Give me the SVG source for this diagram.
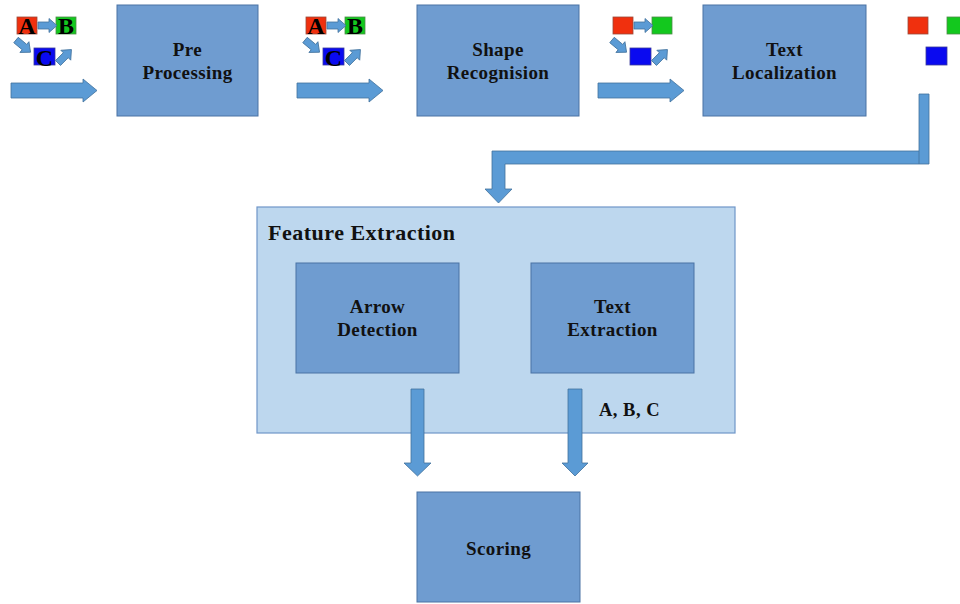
<svg xmlns="http://www.w3.org/2000/svg" xmlns:xlink="http://www.w3.org/1999/xlink" width="960" height="604" viewBox="0 0 960 604">
<style>
.box{fill:#6F9CD0;stroke:#4A73A4;stroke-width:1}
.cont{fill:#BDD7EE;stroke:#6F96C8;stroke-width:1.2}
.arr{fill:#5B9BD5;stroke:#41719C;stroke-width:0.8}
.lbl{font-family:"Liberation Serif","Times New Roman",serif;font-weight:bold;font-size:19px;fill:#111;text-anchor:middle;letter-spacing:0.4px}
.ttl{font-family:"Liberation Serif","Times New Roman",serif;font-weight:bold;font-size:22px;fill:#111;letter-spacing:0.5px}
.let{font-family:"Liberation Serif","Times New Roman",serif;font-weight:bold;font-size:24px;fill:#000;text-anchor:middle}
.r{fill:#F0300E;stroke:#9A4A3A;stroke-width:0.8}
.g{fill:#13C81E;stroke:#4F8A4A;stroke-width:0.8}
.b{fill:#0A0AF0;stroke:#3A3A9A;stroke-width:0.8}
</style>
<defs>
<path id="sa" d="M0,-3.5 H11 V-7 L19,0 L11,7 V3.5 H0 Z"/>
<g id="icon">
<rect class="r" x="0" y="0" width="20" height="17"/>
<rect class="g" x="39" y="0" width="20" height="17"/>
<rect class="b" x="17" y="31" width="21" height="17"/>
<use href="#sa" class="arr" transform="translate(21,8.5)"/>
<use href="#sa" class="arr" transform="translate(-1,23) rotate(40)"/>
<use href="#sa" class="arr" transform="translate(41,46) rotate(-45)"/>
</g>
</defs>

<g id="icons">
<g id="icon1" transform="translate(17,17)">
<use href="#icon"/>
<text class="let" x="10" y="16.5">A</text>
<text class="let" x="49" y="16.5">B</text>
<text class="let" x="27.5" y="48.5">C</text>
</g>
<g id="icon2" transform="translate(306,17)">
<use href="#icon"/>
<text class="let" x="10" y="16.5">A</text>
<text class="let" x="49" y="16.5">B</text>
<text class="let" x="27.5" y="48.5">C</text>
</g>
<g id="icon3" transform="translate(613,17)">
<use href="#icon"/>
</g>
<g id="icon4" transform="translate(908,17)">
<rect class="r" x="0" y="0" width="20" height="17"/>
<rect class="g" x="39" y="0" width="20" height="17"/>
<rect class="b" x="18" y="30" width="21" height="18"/>
</g>
<g id="icon5">
<use href="#sa" class="arr" transform="translate(355,391)"/>
<use href="#sa" class="arr" transform="translate(336,407) rotate(42)"/>
<use href="#sa" class="arr" transform="translate(376,421) rotate(-45)"/>
</g>
</g>

<g id="connectors">
<path class="arr" d="M11,83 H83 V79 L97,90.5 L83,102 V98 H11 Z"/>
<path class="arr" d="M297,83 H369 V79 L383,90.5 L369,102 V98 H297 Z"/>
<path class="arr" d="M598,83 H670 V79 L684,90.5 L670,102 V98 H598 Z"/>
<path class="arr" d="M929,94 V164 H505 V189 H512 L498.5,203 L485,189 H492 V151 H919 V94 Z"/>
<line x1="919" y1="151" x2="919" y2="164" stroke="#41719C" stroke-width="0.8"/>
</g>

<g id="feature">
<rect class="cont" x="257" y="207" width="478" height="226"/>
<text class="ttl" x="268" y="240">Feature Extraction</text>
</g>

<g id="pre">
<rect class="box" x="117" y="5" width="141" height="111"/>
<text class="lbl" x="187.5" y="56">Pre</text>
<text class="lbl" x="187.5" y="79">Processing</text>
</g>
<g id="shape">
<rect class="box" x="417" y="5" width="162" height="111"/>
<text class="lbl" x="498" y="56">Shape</text>
<text class="lbl" x="498" y="79">Recognision</text>
</g>
<g id="textloc">
<rect class="box" x="703" y="5" width="163" height="111"/>
<text class="lbl" x="784.5" y="56">Text</text>
<text class="lbl" x="784.5" y="79">Localization</text>
</g>
<g id="arrowdet">
<rect class="box" x="296" y="263" width="163" height="110"/>
<text class="lbl" x="377.5" y="313">Arrow</text>
<text class="lbl" x="377.5" y="336">Detection</text>
</g>
<g id="textext">
<rect class="box" x="531" y="263" width="163" height="110"/>
<text class="lbl" x="612.5" y="313">Text</text>
<text class="lbl" x="612.5" y="336">Extraction</text>
</g>
<g id="scoring">
<rect class="box" x="417" y="492" width="163" height="110"/>
<text class="lbl" x="498.5" y="555">Scoring</text>
</g>

<g id="connectors2">
<path class="arr" d="M411,389 H424 V463 H431 L417.5,476 L404,463 H411 Z"/>
<path class="arr" d="M568,389 H582 V463 H588 L575,476 L562,463 H568 Z"/>
</g>
<text class="ttl" style="font-size:18.5px" x="599" y="416">A, B, C</text>
</svg>
